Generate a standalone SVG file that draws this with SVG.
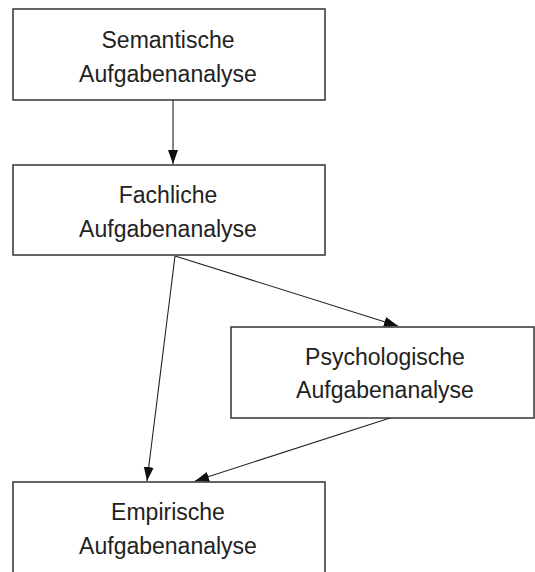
<svg xmlns="http://www.w3.org/2000/svg" width="535" height="572" viewBox="0 0 535 572">
<style>
.box{fill:#fff;stroke:#333;stroke-width:1.5}
.lbl{font-family:"Liberation Sans",Arial,sans-serif;font-size:23px;fill:#222;text-anchor:middle}
.edge{stroke:#222;stroke-width:1.1;fill:none;marker-end:url(#arr)}
</style>
<defs>
<marker id="arr" markerUnits="userSpaceOnUse" markerWidth="15" markerHeight="11" refX="14" refY="5" orient="auto">
<path d="M0,0 L14,5 L0,10 z" fill="#111"/>
</marker>
</defs>
<rect width="535" height="572" fill="#fff"/>
<g id="semantische">
<rect class="box" x="13" y="9" width="312" height="91"/>
<text class="lbl" x="168" y="48">Semantische</text>
<text class="lbl" x="168" y="82">Aufgabenanalyse</text>
</g>
<g id="fachliche">
<rect class="box" x="13" y="165" width="312" height="90"/>
<text class="lbl" x="168" y="203">Fachliche</text>
<text class="lbl" x="168" y="237">Aufgabenanalyse</text>
</g>
<g id="psychologische">
<rect class="box" x="231" y="327" width="303" height="91"/>
<text class="lbl" x="385" y="365">Psychologische</text>
<text class="lbl" x="385" y="398">Aufgabenanalyse</text>
</g>
<g id="empirische">
<rect class="box" x="13" y="482" width="312" height="95"/>
<text class="lbl" x="168" y="520">Empirische</text>
<text class="lbl" x="168" y="554">Aufgabenanalyse</text>
</g>
<g id="connectors">
<line class="edge" x1="173" y1="100" x2="173" y2="164"/>
<line class="edge" x1="175" y1="256" x2="398" y2="326"/>
<line class="edge" x1="175" y1="256" x2="147" y2="481"/>
<line class="edge" x1="390" y1="418" x2="195" y2="481"/>
</g>
</svg>
